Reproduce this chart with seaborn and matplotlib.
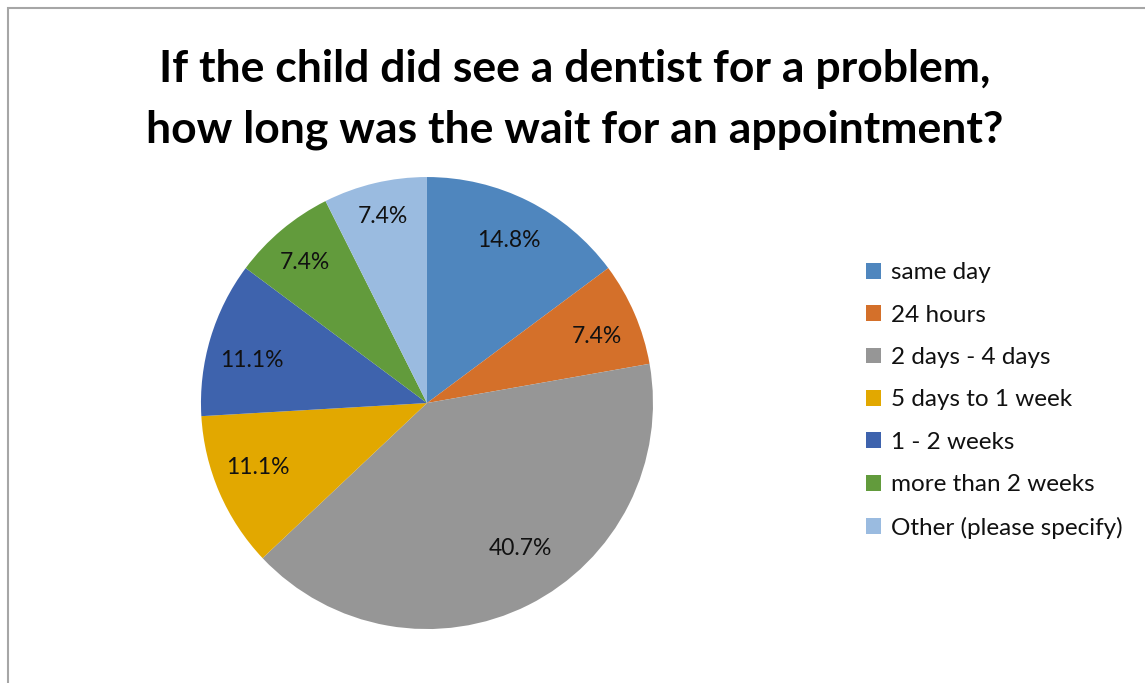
import matplotlib
matplotlib.use("Agg")
import matplotlib.pyplot as plt
import seaborn as sns
from matplotlib.patches import Rectangle
import numpy as np

categories = ["same day", "24 hours", "2 days - 4 days", "5 days to 1 week",
              "1 - 2 weeks", "more than 2 weeks", "Other (please specify)"]
counts = [4, 2, 11, 3, 3, 2, 2]
colors = ["#4F86BE", "#D4702A", "#969696", "#E2A800", "#3E63AD", "#629B3C", "#9ABBE0"]
# % label placement as in the original: distance (fraction of radius) and angle nudge (deg)
label_dist = [0.805, 0.808, 0.765, 0.80, 0.797, 0.825, 0.85]
label_nudge = [0, -2, 6, -2.5, 3, 1, 0]

sns.set_theme(style="white")
plt.rcParams['font.family'] = ['Lato', 'DejaVu Sans']

fig = plt.figure(figsize=(11.45, 6.83), dpi=100)
ax = fig.add_axes([0.1755, 0.079, 0.3948, 0.6618])

wedges, texts, autotexts = ax.pie(counts, colors=sns.color_palette(colors),
                                  startangle=90, counterclock=False,
                                  autopct="%.1f%%", pctdistance=0.8,
                                  wedgeprops=dict(linewidth=0),
                                  textprops=dict(fontsize=16.5, color="#111111"))
ax.set_xlim(-1, 1)
ax.set_ylim(-1, 1)
ax.set_aspect("equal")
for w, t, d, n in zip(wedges, autotexts, label_dist, label_nudge):
    ang = np.deg2rad((w.theta1 + w.theta2) / 2 + n)
    t.set_position((d * np.cos(ang), d * np.sin(ang)))

fig.legend(wedges, categories, loc="center left", bbox_to_anchor=(0.737, 0.4136),
           frameon=False, fontsize=17.5, handlelength=0.62, handleheight=0.62,
           handletextpad=0.4, labelspacing=0.88, labelcolor="#111111")

fig.text(0.502, 0.855, "If the child did see a dentist for a problem,\nhow long was the wait for an appointment?",
         ha="center", va="center", fontsize=32, fontweight="bold", linespacing=1.62,
         color="black")

fig.add_artist(Rectangle((7.5 / 1145, -0.05), 1.2, 1.05 - 8.5 / 683, fill=False,
                         edgecolor="#A6A6A6", linewidth=1.5, transform=fig.transFigure))

fig.savefig("out.png", dpi=100)
